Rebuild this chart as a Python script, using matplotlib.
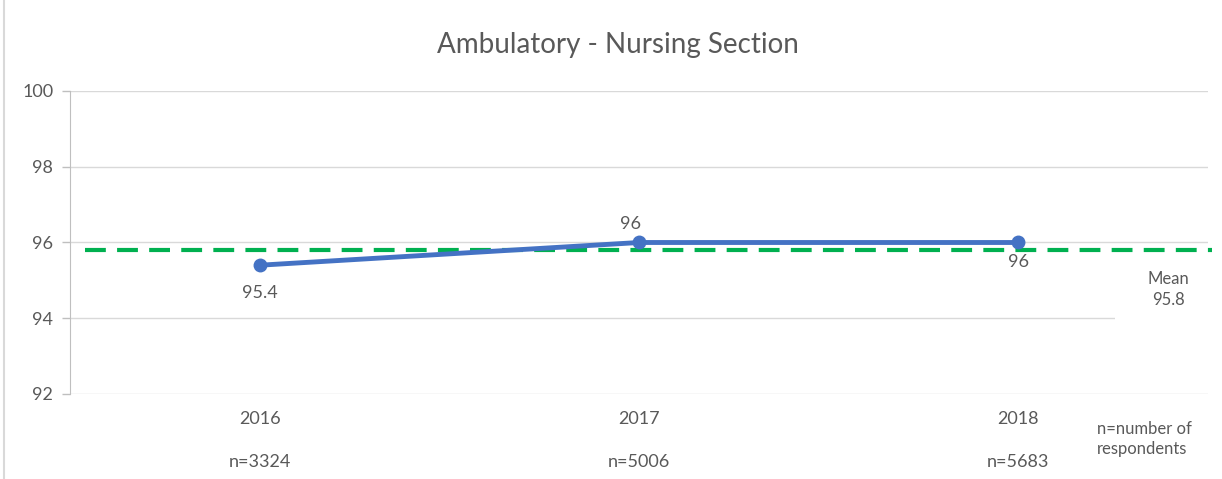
import matplotlib.pyplot as plt
from matplotlib.patches import Rectangle

# data
years = ["2016", "2017", "2018"]
scores = [95.4, 96, 96]
respondents = ["n=3324", "n=5006", "n=5683"]
mean_score = 95.8
yticks = [92, 94, 96, 98, 100]

plt.rcParams['font.family'] = ['Lato', 'DejaVu Sans']

grey = '#595959'
fig = plt.figure(figsize=(12.22, 4.79), dpi=100)
ax = fig.add_axes([70 / 1222, 1 - 394 / 479, 1138 / 1222, 303 / 479])

x = list(range(len(years)))

# gridlines
for v in yticks:
    ax.axhline(v, color='#D9D9D9', lw=1, zorder=0)

# white box behind the mean label
ax.add_patch(Rectangle((2.255, 93.85), 0.3, 1.6, fc='white', ec='none',
                       zorder=1, clip_on=False))

# mean line
ax.plot([-0.46, 2.51], [mean_score, mean_score], color='#00B050', lw=3,
        ls=(0, (5, 2.7)), zorder=2, clip_on=False)

# series
ax.plot(x, scores, color='#4472C4', lw=3.5, marker='o', ms=9, zorder=3)

# data labels
offsets = [(0, -20), (-6, 13), (0, -14)]
for xi, v, (dx, dy) in zip(x, scores, offsets):
    ax.annotate(f"{v:g}", (xi, v), xytext=(dx, dy), textcoords='offset points',
                ha='center', va='center', fontsize=13, color=grey, zorder=4)

ax.set_xlim(-0.5, 2.5)
ax.set_ylim(92, 100)
ax.set_yticks(yticks)
ax.set_xticks(x)
ax.set_xticklabels(years)
ax.tick_params(axis='x', length=0, pad=12, labelsize=13, labelcolor=grey)
ax.tick_params(axis='y', length=6, width=1, color='#BFBFBF', pad=6,
               labelsize=13, labelcolor=grey)

for s in ['top', 'right', 'bottom']:
    ax.spines[s].set_visible(False)
ax.spines['left'].set_color('#BFBFBF')

# respondents under years
for xi, n in zip(x, respondents):
    ax.text(xi, -0.225, n, transform=ax.get_xaxis_transform(), ha='center',
            va='center', fontsize=13, color=grey)

# mean label
ax.text(2.395, 94.75, "Mean\n95.8", ha='center', va='center', fontsize=12,
        color=grey, linespacing=1.4, zorder=5)

# footnote
fig.text(1097 / 1222, 1 - 439 / 479, "n=number of\nrespondents", ha='left',
         va='center', fontsize=12, color=grey, linespacing=1.3)

fig.text(618 / 1222, 1 - 45 / 479, "Ambulatory - Nursing Section", ha='center',
         va='center', fontsize=20, color=grey)

# chart border
fig.patches.append(Rectangle((4 / 1222, -0.01), 1.2, 1.2, transform=fig.transFigure,
                             fill=False, ec='#D9D9D9', lw=1.5))

fig.savefig('out.png', dpi=100)
